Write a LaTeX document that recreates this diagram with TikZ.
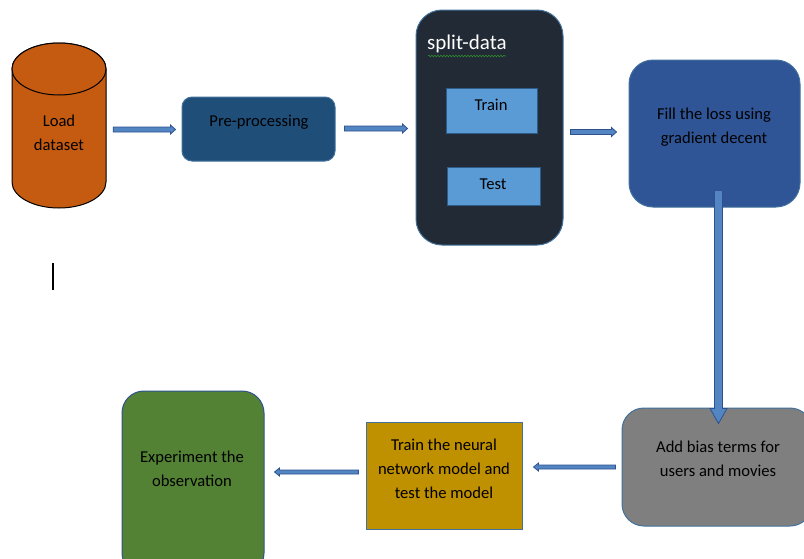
\documentclass[tikz,border=0pt]{standalone}
\usepackage{fontspec}
\setmainfont{Carlito}
\usetikzlibrary{calc,decorations.pathmorphing,shapes.geometric}
\definecolor{cylfill}{HTML}{C55A11}
\definecolor{prefill}{HTML}{1F4E79}
\definecolor{splitfill}{HTML}{222A35}
\definecolor{ttfill}{HTML}{5B9BD5}
\definecolor{ttline}{HTML}{2E5C8A}
\definecolor{lossfill}{HTML}{2F5597}
\definecolor{biasfill}{HTML}{7F7F7F}
\definecolor{nnfill}{HTML}{BF9000}
\definecolor{expfill}{HTML}{548235}
\definecolor{boxline}{HTML}{41719C}
\definecolor{arrfill}{HTML}{5285C2}
\definecolor{arrline}{HTML}{2F528F}
\definecolor{squig}{HTML}{2E8B2E}
\tikzset{
  box/.style={draw=boxline, line width=1pt, inner sep=0pt},
  txt/.style={align=center, inner sep=0pt, font=\fontsize{16.6}{24}\selectfont, text=black},
  arr/.style={fill=arrfill, draw=arrline, line width=0.8pt, line join=miter},
  cylbody/.style={fill=cylfill, draw=black, line width=1pt},
}
\newcommand\sw{2.5pt}
\newcommand\hw{4.5pt}
\newcommand\hl{5pt}
\newcommand\barrow[2]{%
  \coordinate (hh) at ($(#2)!\hl!(#1)$);
  \draw[arr] ($(#1)!\sw!90:(#2)$) -- ($(hh)!\sw!-90:(#1)$) -- ($(hh)!\hw!-90:(#1)$) -- (#2)
    -- ($(hh)!\hw!90:(#1)$) -- ($(hh)!\sw!90:(#1)$) -- ($(#1)!\sw!-90:(#2)$) -- cycle;}
\begin{document}
\begin{tikzpicture}[x=1pt,y=-1pt]
\clip (0,0) rectangle (804,558);
\fill[white] (0,0) rectangle (804,558);
% cylinder
\path[cylbody] (12,69) .. controls (12,54.6) and (33,43) .. (59,43)
  .. controls (85,43) and (106,54.6) .. (106,69) -- (106,182)
  .. controls (106,196.4) and (85,208) .. (59,208)
  .. controls (33,208) and (12,196.4) .. (12,182) -- cycle;
\node[ellipse, cylbody, inner sep=0pt, minimum width=94, minimum height=52] (cyltop) at (59,69) {};
\node[inner sep=0pt, minimum width=94, minimum height=165] (load) at (59,125.5) {};
\node[txt] (loadt) at (59,133) {Load\\dataset};
% boxes
\node[box, fill=prefill, rounded corners=10, minimum width=153, minimum height=64] (pre) at (258.5,129) {};
\node[txt] (pret) at (259,122) {Pre-processing};
\node[box, fill=splitfill, rounded corners=26, minimum width=147, minimum height=235] (split) at (489.5,127.5) {};
\node[inner sep=0pt, anchor=west, text=white, font=\fontsize{21}{24}\selectfont] (splitt) at (427,44) {split-data};
\draw[squig, line width=0.6pt, decorate, decoration={snake, amplitude=0.8, segment length=3}] (428,56) -- (506,56);
\node[draw=ttline, line width=1pt, fill=ttfill, minimum width=91, minimum height=45, inner sep=0pt] (train) at (491.5,110.5) {};
\node[txt] (traint) at (491,105) {Train};
\node[draw=ttline, line width=1pt, fill=ttfill, minimum width=93, minimum height=38, inner sep=0pt] (test) at (493.5,186) {};
\node[txt] (testt) at (493,184) {Test};
\node[box, fill=lossfill, rounded corners=24, minimum width=171, minimum height=147] (loss) at (714.5,133.5) {};
\node[txt] (losst) at (714,127) {Fill the loss using\\gradient decent};
\node[box, fill=biasfill, rounded corners=22, minimum width=190, minimum height=118] (bias) at (717,467) {};
\node[txt] (biast) at (718,459) {Add bias terms for\\users and movies};
\node[box, fill=nnfill, minimum width=156, minimum height=107] (nn) at (444,475.5) {};
\node[txt] (nnt) at (444,469) {Train the neural\\network model and\\test the model};
\node[box, draw=arrline, fill=expfill, rounded corners=22, minimum width=142, minimum height=184] (exp) at (193,483) {};
\node[txt] (expt) at (192,469) {Experiment the\\observation};
% text cursor
\draw[black, line width=1.6pt] (53,263) -- (53,290);
% connectors
\coordinate (a1s) at ([xshift=7]load.east |- 0,129.5);
\coordinate (a1e) at ([xshift=-6]pre.west |- 0,129.5);
\barrow{a1s}{a1e}
\coordinate (a2s) at ([xshift=9]pre.east |- 0,128.5);
\coordinate (a2e) at ([xshift=-8]split.west |- 0,128.5);
\barrow{a2s}{a2e}
\coordinate (a3s) at ([xshift=7]split.east |- 0,132);
\coordinate (a3e) at ([xshift=-12]loss.west |- 0,132);
\barrow{a3s}{a3e}
\coordinate (a4s) at ([yshift=17]loss.south -| 718.5,0);
\coordinate (a4e) at ([yshift=-16]bias.north -| 718.5,0);
\renewcommand\sw{4pt}\renewcommand\hw{8.5pt}\renewcommand\hl{15pt}
\barrow{a4s}{a4e}
\renewcommand\sw{2pt}\renewcommand\hw{4pt}\renewcommand\hl{5pt}
\coordinate (a5s) at ([xshift=-6]bias.west |- 0,467);
\coordinate (a5e) at ([xshift=11]nn.east |- 0,467);
\barrow{a5s}{a5e}
\coordinate (a6s) at ([xshift=-7]nn.west |- 0,472);
\coordinate (a6e) at ([xshift=10]exp.east |- 0,472);
\barrow{a6s}{a6e}
\end{tikzpicture}
\end{document}
